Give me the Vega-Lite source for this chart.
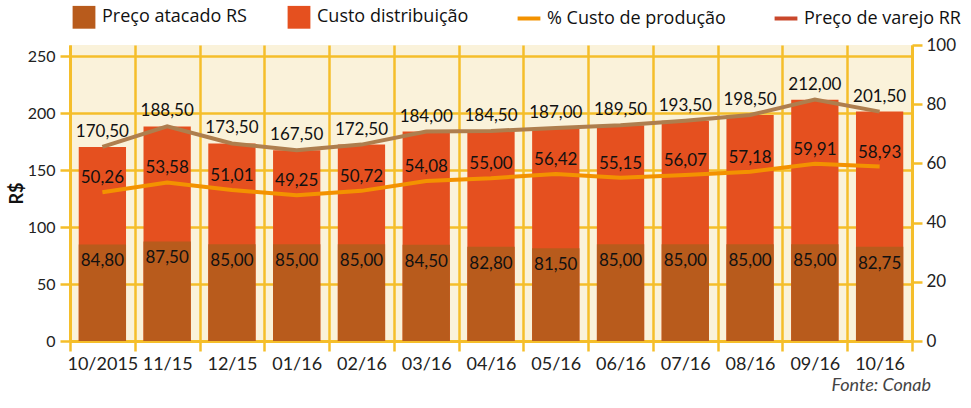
{
  "$schema": "https://vega.github.io/schema/vega-lite/v6.json",
  "width": 842,
  "height": 296,
  "autosize": "none",
  "padding": {"left": 70, "top": 45, "right": 59, "bottom": 67},
  "background": "#FFFFFF",
  "config": {
    "locale": {"number": {"decimal": ",", "thousands": ".", "grouping": [3], "currency": ["R$", ""]}},
    "view": {"fill": "#FAF2DA", "stroke": null},
    "font": "Lato",
    "axis": {
      "domainColor": "#F5BE2A", "domainWidth": 3,
      "tickColor": "#F5BE2A", "tickWidth": 2.5, "tickSize": 10,
      "gridColor": "#F5BE2A", "gridWidth": 2.5, "gridOpacity": 1,
      "labelColor": "#222222", "labelFont": "Lato", "labelFontSize": 17
    }
  },
  "title": {"text": "Fonte: Conab", "orient": "bottom", "anchor": "end", "fontStyle": "italic", "fontWeight": "normal", "fontSize": 18, "color": "#444444", "font": "Lato", "offset": 4, "dx": -30},
  "data": {"values": [
    {"mes": "10/2015", "atacado": 84.80, "varejo": 170.50, "pct": 50.26},
    {"mes": "11/15", "atacado": 87.50, "varejo": 188.50, "pct": 53.58},
    {"mes": "12/15", "atacado": 85.00, "varejo": 173.50, "pct": 51.01},
    {"mes": "01/16", "atacado": 85.00, "varejo": 167.50, "pct": 49.25},
    {"mes": "02/16", "atacado": 85.00, "varejo": 172.50, "pct": 50.72},
    {"mes": "03/16", "atacado": 84.50, "varejo": 184.00, "pct": 54.08},
    {"mes": "04/16", "atacado": 82.80, "varejo": 184.50, "pct": 55.00},
    {"mes": "05/16", "atacado": 81.50, "varejo": 187.00, "pct": 56.42},
    {"mes": "06/16", "atacado": 85.00, "varejo": 189.50, "pct": 55.15},
    {"mes": "07/16", "atacado": 85.00, "varejo": 193.50, "pct": 56.07},
    {"mes": "08/16", "atacado": 85.00, "varejo": 198.50, "pct": 57.18},
    {"mes": "09/16", "atacado": 85.00, "varejo": 212.00, "pct": 59.91},
    {"mes": "10/16", "atacado": 82.75, "varejo": 201.50, "pct": 58.93}
  ]},
  "encoding": {
    "x": {
      "field": "mes", "type": "nominal", "sort": null,
      "scale": {"paddingInner": 0, "paddingOuter": 0},
      "axis": {"title": null, "labelAngle": 0, "grid": true, "tickBand": "extent", "labelPadding": 4, "labelFontSize": 18}
    }
  },
  "layer": [
    {
      "layer": [
        {
          "mark": {"type": "bar", "width": {"band": 0.73}},
          "encoding": {
            "y": {
              "field": "varejo", "type": "quantitative",
              "scale": {"domain": [0, 250]},
              "axis": {"values": [0, 50, 100, 150, 200, 250], "grid": true, "title": "R$", "titleFontSize": 18, "titleFontWeight": "bold", "titleColor": "#111111", "titlePadding": 1, "labelPadding": 5, "labelFontSize": 16}
            },
            "color": {
              "datum": "distrib",
              "scale": {"domain": ["atacado", "distrib", "pct", "varejo"], "range": ["#B85B1C", "#E5501F", "#F39200", "#C9472B"]},
              "legend": {
                "orient": "none", "legendX": 5, "legendY": -37, "direction": "horizontal", "title": null,
                "symbolSize": 520, "labelFont": "Open Sans", "labelFontSize": 18, "labelColor": "#111111", "columnPadding": 40, "labelLimit": 300, "labelOffset": 9,
                "labelExpr": "datum.value == 'atacado' ? 'Preço atacado RS' : datum.value == 'distrib' ? 'Custo distribuição' : datum.value == 'pct' ? '% Custo de produção' : 'Preço de varejo RR'",
                "encode": {"symbols": {"update": {
                  "shape": {"signal": "datum.value == 'pct' || datum.value == 'varejo' ? 'stroke' : 'square'"},
                  "fill": {"signal": "datum.value == 'atacado' ? '#8E5A1F' : scale('color', datum.value)"},
                  "stroke": {"signal": "scale('color', datum.value)"},
                  "strokeWidth": {"signal": "datum.value == 'pct' || datum.value == 'varejo' ? 4 : 0"},
                  "opacity": {"value": 1}
                }}}
              }
            }
          }
        },
        {
          "mark": {"type": "bar", "width": {"band": 0.73}},
          "encoding": {
            "y": {"field": "atacado", "type": "quantitative"},
            "color": {"datum": "atacado"}
          }
        },
        {
          "mark": {"type": "line", "color": "#AE7E4E", "strokeWidth": 4},
          "encoding": {"y": {"field": "varejo", "type": "quantitative"}}
        },
        {
          "mark": {"type": "text", "dy": -15, "fontSize": 17, "color": "#111111"},
          "encoding": {
            "y": {"field": "varejo", "type": "quantitative"},
            "text": {"field": "varejo", "type": "quantitative", "format": ".2f"}
          }
        },
        {
          "mark": {"type": "text", "dy": 17, "fontSize": 17, "color": "#111111"},
          "encoding": {
            "y": {"field": "atacado", "type": "quantitative"},
            "text": {"field": "atacado", "type": "quantitative", "format": ".2f"}
          }
        }
      ]
    },
    {
      "layer": [
        {
          "mark": {"type": "line", "strokeWidth": 4},
          "encoding": {
            "y": {
              "field": "pct", "type": "quantitative",
              "scale": {"domain": [0, 100]},
              "axis": {"orient": "right", "values": [0, 10, 20, 30, 40, 50, 60, 70, 80, 90, 100], "grid": false, "title": null, "labelPadding": 4}
            },
            "color": {"datum": "pct"}
          }
        },
        {
          "mark": {"type": "text", "dy": -14, "fontSize": 17, "color": "#111111"},
          "encoding": {
            "y": {"field": "pct", "type": "quantitative"},
            "text": {"field": "pct", "type": "quantitative", "format": ".2f"}
          }
        }
      ]
    }
  ],
  "resolve": {"scale": {"y": "independent"}}
}
